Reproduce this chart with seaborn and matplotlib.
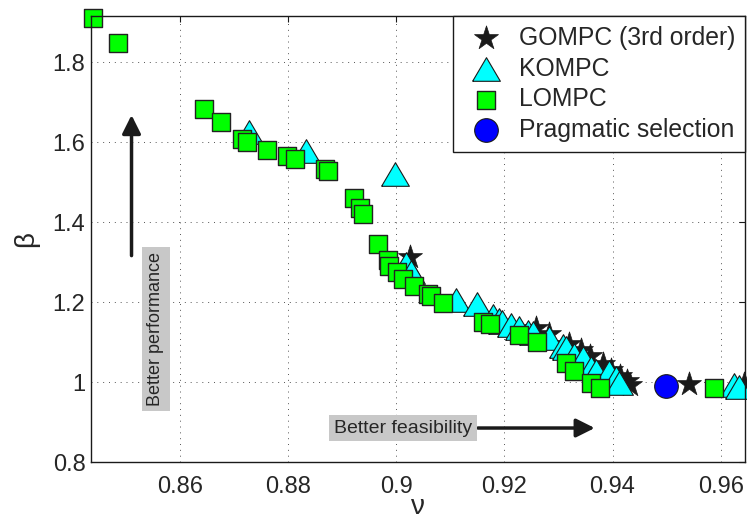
import numpy as np
import pandas as pd
import matplotlib
matplotlib.use("Agg")
import matplotlib.pyplot as plt
import seaborn as sns

sns.set_theme(style="white")
plt.rcParams["font.family"] = ["Liberation Sans", "DejaVu Sans"]

# === Data (nu, beta) ===
gompc_nu = [0.9026, 0.9259, 0.9282, 0.9319, 0.9341, 0.9358, 0.9382, 0.9398,
            0.9414, 0.9426, 0.9432, 0.9542, 0.9644]
gompc_beta = [1.313, 1.136, 1.119, 1.094, 1.079, 1.064, 1.044, 1.029,
              1.016, 1.003, 0.9925, 0.995, 0.995]

kompc_nu = [0.8728, 0.8833, 0.8997, 0.9017, 0.9028, 0.9110, 0.9149, 0.9178,
            0.9190, 0.9196, 0.9212, 0.9227, 0.9243, 0.9252, 0.9283, 0.9308,
            0.9314, 0.9329, 0.9345, 0.9360, 0.9369, 0.9394, 0.9406, 0.9412,
            0.9625, 0.9634]
kompc_beta = [1.625, 1.578, 1.521, 1.295, 1.276, 1.205, 1.195, 1.164,
              1.1555, 1.1495, 1.143, 1.1345, 1.126, 1.122, 1.1095, 1.089,
              1.0845, 1.068, 1.0595, 1.0345, 1.028, 1.026, 1.0095, 0.997,
              0.9925, 0.988]

lompc_nu = [0.8439, 0.8485, 0.8644, 0.8676, 0.8715, 0.8723, 0.8761, 0.8798,
            0.8813, 0.8868, 0.8874, 0.8921, 0.8932, 0.8938, 0.8966, 0.8985,
            0.8986, 0.9002, 0.9013, 0.9033, 0.9058, 0.9065, 0.9086, 0.9161,
            0.9173, 0.9226, 0.9260, 0.9313, 0.9329, 0.9360, 0.9377, 0.9587]
lompc_beta = [1.911, 1.8475, 1.6825, 1.649, 1.6075, 1.600, 1.579, 1.565,
              1.5575, 1.5325, 1.5275, 1.461, 1.436, 1.420, 1.345, 1.305,
              1.290, 1.274, 1.2575, 1.240, 1.220, 1.214, 1.1975, 1.150,
              1.145, 1.1175, 1.100, 1.0475, 1.0275, 0.9975, 0.986, 0.985]

pick_nu = [0.9499]
pick_beta = [0.990]

x_ticks = [0.86, 0.88, 0.90, 0.92, 0.94, 0.96]
x_tick_labels = ["0.86", "0.88", "0.9", "0.92", "0.94", "0.96"]
y_ticks = [0.8, 1.0, 1.2, 1.4, 1.6, 1.8]
y_tick_labels = ["0.8", "1", "1.2", "1.4", "1.6", "1.8"]

# wider-than-tall triangle like the MATLAB one
tri = [(-1, -0.85), (1, -0.85), (0, 0.85), (-1, -0.85)]

fig = plt.figure(figsize=(7.47, 5.22), dpi=100)
ax = fig.add_axes([0.1218, 0.1149, 0.8755, 0.8544])

sns.scatterplot(x=gompc_nu, y=gompc_beta, marker="*", s=330, color="k",
                edgecolor="k", linewidth=0.5, label="GOMPC (3rd order)",
                ax=ax, clip_on=False, legend=False)
sns.scatterplot(x=kompc_nu, y=kompc_beta, marker=tri, s=400, color="#00ffff",
                edgecolor="k", linewidth=0.8, label="KOMPC", ax=ax,
                clip_on=False, legend=False)
sns.scatterplot(x=lompc_nu, y=lompc_beta, marker="s", s=185, color="#00ff00",
                edgecolor="#222222", linewidth=1.0, label="LOMPC", ax=ax,
                clip_on=False, legend=False)
sns.scatterplot(x=pick_nu, y=pick_beta, marker="o", s=290, color="#0000ff",
                edgecolor="k", linewidth=0.8, label="Pragmatic selection",
                ax=ax, clip_on=False, legend=False)

ax.set_xlim(0.8435, 0.9645)
ax.set_ylim(0.8, 1.915)
ax.set_xticks(x_ticks)
ax.set_xticklabels(x_tick_labels)
ax.set_yticks(y_ticks)
ax.set_yticklabels(y_tick_labels)
ax.tick_params(direction="in", length=4, width=0.8, top=True, right=True,
               labelsize=17, color="k")
ax.tick_params(axis="x", pad=10)
ax.tick_params(axis="y", pad=4)
ax.grid(True, color="#555555", linestyle=(0, (1, 5)), linewidth=0.7)
for sp in ax.spines.values():
    sp.set_color("k")
    sp.set_linewidth(1.0)

ax.set_xlabel("ν", fontsize=20, labelpad=-3)
ax.set_ylabel("β", fontsize=20, labelpad=10)

# annotation arrows
ax.annotate("", xy=(0.8510, 1.6675), xytext=(0.8510, 1.316),
            arrowprops=dict(arrowstyle="-|>", lw=2.5, color="k",
                            mutation_scale=28, shrinkA=0, shrinkB=0))
ax.annotate("", xy=(0.9367, 0.885), xytext=(0.9151, 0.885),
            arrowprops=dict(arrowstyle="-|>", lw=2.5, color="k",
                            mutation_scale=28, shrinkA=0, shrinkB=0))
ax.text(0.8555, 1.1325, "Better performance", rotation=90, fontsize=13,
        ha="center", va="center",
        bbox=dict(boxstyle="square,pad=0.3", fc="#c8c8c8", ec="none"))
ax.text(0.9012, 0.885, "Better feasibility", fontsize=14,
        ha="center", va="center",
        bbox=dict(boxstyle="square,pad=0.25", fc="#c8c8c8", ec="none"))

leg = ax.legend(loc="upper right", borderaxespad=0, fancybox=False,
                edgecolor="k", framealpha=1, fontsize=17.8, labelspacing=0.27,
                handletextpad=0.4, borderpad=0.4, handlelength=1.85)
leg.get_frame().set_linewidth(1.0)

fig.savefig("out.png", dpi=100)
